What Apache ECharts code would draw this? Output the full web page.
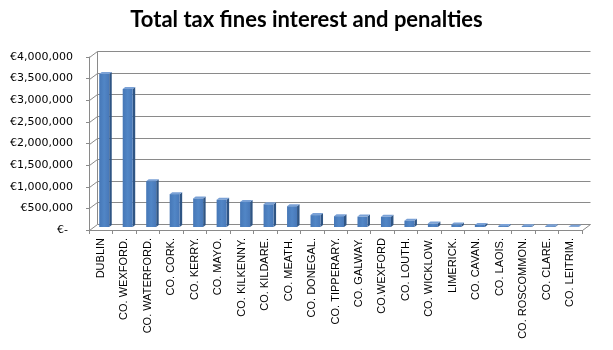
<!DOCTYPE html>
<html>
<head>
<meta charset="utf-8">
<script src="https://cdn.jsdelivr.net/npm/echarts@6/dist/echarts.min.js"></script>
<style>
  html, body { margin: 0; padding: 0; background: #ffffff; }
  #chart { width: 613px; height: 350px; }
</style>
</head>
<body>
<div id="chart"></div>
<script>
// Totals per county (euro)
const counties = [
  'DUBLIN', 'CO. WEXFORD.', 'CO. WATERFORD.', 'CO. CORK.', 'CO. KERRY.',
  'CO. MAYO.', 'CO. KILKENNY.', 'CO. KILDARE.', 'CO. MEATH.', 'CO. DONEGAL.',
  'CO. TIPPERARY.', 'CO. GALWAY.', 'CO.WEXFORD', 'CO. LOUTH.', 'CO. WICKLOW.',
  'LIMERICK.', 'CO. CAVAN.', 'CO. LAOIS.', 'CO. ROSCOMMON.', 'CO. CLARE.', 'CO. LEITRIM.'
];
const totals = [
  3540000, 3190000, 1060000, 760000, 660000,
  630000, 580000, 525000, 480000, 275000,
  250000, 240000, 235000, 145000, 80000,
  58000, 48000, 22000, 20000, 18000, 6000
];
const yTicks = [0, 500000, 1000000, 1500000, 2000000, 2500000, 3000000, 3500000, 4000000];
const yTickLabels = ['€-', '€500,000', '€1,000,000', '€1,500,000', '€2,000,000',
  '€2,500,000', '€3,000,000', '€3,500,000', '€4,000,000'];

const chartTitle = 'Total tax fines interest and penalties';

// Depth of the box walls (front plane -> back plane)
const WALL = { dx: 8, dy: -6 };
// Column geometry relative to the front plane
const COL = { dx: 3.5, dy: -3, w: 10, sx: 2.5, sy: -2 };

const lineColor = '#8a8a8a';
const crisp = v => Math.round(v) + 0.5;

function renderWalls(params, api) {
  const v = api.value(1);
  const band = api.size([1, 0])[0];
  const first = api.coord([0, v]);
  const last = api.coord([counties.length - 1, v]);
  const xL = crisp(first[0] - band / 2);
  const xR = crisp(last[0] + band / 2);
  const y = crisp(first[1]);
  const style = { stroke: lineColor, lineWidth: 1 };
  const children = [
    { type: 'line', shape: { x1: xL, y1: y, x2: xL + WALL.dx, y2: y + WALL.dy }, style },
    { type: 'line', shape: { x1: xL + WALL.dx, y1: y + WALL.dy, x2: xR + WALL.dx, y2: y + WALL.dy }, style }
  ];
  if (v === yTicks[0]) {
    const yTop = crisp(api.coord([0, yTicks[yTicks.length - 1]])[1]);
    children.push(
      { type: 'line', shape: { x1: xR, y1: y, x2: xR + WALL.dx, y2: y + WALL.dy }, style },
      { type: 'line', shape: { x1: xL + WALL.dx, y1: y + WALL.dy, x2: xL + WALL.dx, y2: yTop + WALL.dy }, style }
    );
  }
  return { type: 'group', silent: true, children };
}

function renderColumn(params, api) {
  const i = api.value(0);
  const v = api.value(1);
  const top = api.coord([i, v]);
  const base = api.coord([i, 0]);
  const xl = top[0] + COL.dx - COL.w / 2;
  const xr = xl + COL.w;
  const yt = top[1] + COL.dy;
  const yb = base[1] + COL.dy;
  return {
    type: 'group',
    children: [
      {
        type: 'polygon',
        shape: { points: [[xr, yt], [xr + COL.sx, yt + COL.sy], [xr + COL.sx, yb + COL.sy], [xr, yb]] },
        style: { fill: '#2f5584' }
      },
      {
        type: 'polygon',
        shape: { points: [[xl, yt], [xl + COL.sx, yt + COL.sy], [xr + COL.sx, yt + COL.sy], [xr, yt]] },
        style: { fill: '#7aa1d6' }
      },
      {
        type: 'rect',
        shape: { x: xl, y: yt, width: COL.w, height: yb - yt },
        style: {
          fill: new echarts.graphic.LinearGradient(0, 0, 1, 0, [
            { offset: 0, color: '#4677b6' },
            { offset: 0.5, color: '#5186c6' },
            { offset: 1, color: '#4878b8' }
          ])
        }
      }
    ]
  };
}

const chart = echarts.init(document.getElementById('chart'), null, { renderer: 'canvas' });
chart.setOption({
  animation: false,
  backgroundColor: '#ffffff',
  title: {
    text: chartTitle,
    left: 'center',
    top: 4,
    textStyle: { fontFamily: 'Lato', fontWeight: 'bold', fontSize: 22, color: '#000000' }
  },
  grid: { left: 89, right: 31, top: 57, bottom: 120, containLabel: false },
  xAxis: {
    type: 'category',
    data: counties,
    boundaryGap: true,
    axisLine: { show: true, lineStyle: { color: lineColor } },
    axisTick: { show: true, length: 4, lineStyle: { color: lineColor } },
    axisLabel: {
      interval: 0,
      rotate: 90,
      margin: 8,
      fontFamily: 'Liberation Sans',
      fontSize: 11,
      color: '#000000'
    },
    splitLine: { show: false }
  },
  yAxis: {
    type: 'value',
    min: 0,
    max: 4000000,
    interval: 500000,
    axisLine: { show: true, lineStyle: { color: lineColor } },
    axisTick: { show: true, length: 3, lineStyle: { color: lineColor } },
    splitLine: { show: false },
    axisLabel: {
      margin: 16,
      fontFamily: 'DejaVu Sans',
      fontSize: 11,
      color: '#000000',
      formatter: function (val) {
        const idx = yTicks.indexOf(val);
        const txt = idx >= 0 ? yTickLabels[idx] : String(val);
        return val === 0 ? '{z|' + txt + '}' : txt;
      },
      rich: {
        z: { fontFamily: 'DejaVu Sans', fontSize: 11, color: '#000000', padding: [0, 5, 0, 0] }
      }
    }
  },
  series: [
    {
      type: 'custom',
      name: 'walls',
      renderItem: renderWalls,
      data: yTicks.map(v => [0, v]),
      encode: { x: 0, y: 1 },
      silent: true,
      z: 1
    },
    {
      type: 'custom',
      name: chartTitle,
      renderItem: renderColumn,
      data: totals.map((v, i) => [i, v]),
      encode: { x: 0, y: 1 },
      z: 2
    }
  ]
});
</script>
</body>
</html>
